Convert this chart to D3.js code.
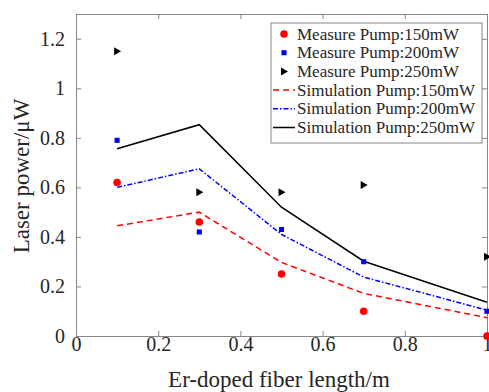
<!DOCTYPE html>
<html>
<head>
<meta charset="utf-8">
<script src="https://cdn.jsdelivr.net/npm/d3@7"></script>
<style>
  body { margin: 0; background: #fff; }
</style>
</head>
<body>
<div id="chart"></div>
<script>
// fiber lengths (m)
var lengths = [0.1, 0.3, 0.5, 0.7, 1.0];

// measured laser power (uW)
var measure150 = [0.62, 0.46, 0.25, 0.10, 0.00];
var measure200 = [0.79, 0.42, 0.43, 0.30, 0.10];
var measure250 = [1.15, 0.58, 0.58, 0.61, 0.32];

// simulated laser power (uW)
var sim150 = [0.445, 0.50, 0.297, 0.172, 0.074];
var sim200 = [0.60, 0.675, 0.41, 0.238, 0.104];
var sim250 = [0.756, 0.853, 0.52, 0.302, 0.136];

var xTicks = [0, 0.2, 0.4, 0.6, 0.8, 1];
var yTicks = [0, 0.2, 0.4, 0.6, 0.8, 1, 1.2];
var legendLabels = [
  "Measure Pump:150mW", "Measure Pump:200mW", "Measure Pump:250mW",
  "Simulation Pump:150mW", "Simulation Pump:200mW", "Simulation Pump:250mW"
];

var FONT = "'Liberation Serif', 'Times New Roman', serif";

var W = 489, H = 392,
    margin = {top: 14, right: 2, bottom: 56, left: 76},
    width = W - margin.left - margin.right,
    height = H - margin.top - margin.bottom;

var svg = d3.select("#chart").append("svg")
    .attr("width", W)
    .attr("height", H)
    .style("font-family", FONT);

var g = svg.append("g")
    .attr("transform", "translate(" + margin.left + "," + margin.top + ")");

var x = d3.scaleLinear().domain([0, 1]).range([0, width]),
    y = d3.scaleLinear().domain([0, 1.3]).range([height, 0]);

var axisColor = "#868686";

// axes (box with ticks inside, matlab style)
function styleAxis(sel) {
  sel.attr("font-family", FONT);
  sel.select(".domain").attr("stroke", axisColor).attr("stroke-width", 1);
  sel.selectAll(".tick line").attr("stroke", axisColor);
  sel.selectAll(".tick text").attr("font-size", "20px").attr("fill", "#262626");
}

g.append("g")
    .attr("transform", "translate(0," + height + ")")
    .call(d3.axisBottom(x).tickValues(xTicks).tickSizeInner(-5).tickSizeOuter(0).tickPadding(1)
      .tickFormat(d3.format("")))
    .call(styleAxis);

g.append("g")
    .call(d3.axisLeft(y).tickValues(yTicks).tickSizeInner(-5).tickSizeOuter(0).tickPadding(11)
      .tickFormat(d3.format("")))
    .call(styleAxis);

g.append("g")
    .call(d3.axisTop(x).tickValues(xTicks).tickSizeInner(-5).tickSizeOuter(0).tickFormat(""))
    .call(styleAxis);

g.append("g")
    .attr("transform", "translate(" + width + ",0)")
    .call(d3.axisRight(y).tickValues(yTicks).tickSizeInner(-5).tickSizeOuter(0).tickFormat(""))
    .call(styleAxis);

// simulation lines
var line = d3.line()
    .x(function(d, i) { return x(lengths[i]); })
    .y(function(d) { return y(d); });

var simSeries = [
  {data: sim150, color: "#ff0000", dash: "6,4"},
  {data: sim200, color: "#0000ff", dash: "5,2,1.5,2"},
  {data: sim250, color: "#000000", dash: null}
];

simSeries.forEach(function(s) {
  g.append("path")
      .datum(s.data)
      .attr("fill", "none")
      .attr("stroke", s.color)
      .attr("stroke-width", 1.5)
      .attr("stroke-dasharray", s.dash)
      .attr("d", line);
});

// measured points
var circle = d3.symbol().type(d3.symbolCircle).size(45),
    square = d3.symbol().type(d3.symbolSquare).size(26),
    tri = "M-3,-4L4,0L-3,4Z";

g.selectAll(".m150").data(measure150).enter().append("path")
    .attr("d", circle).attr("fill", "#ff0000")
    .attr("transform", function(d, i) { return "translate(" + x(lengths[i]) + "," + y(d) + ")"; });

g.selectAll(".m200").data(measure200).enter().append("path")
    .attr("d", square).attr("fill", "#0000ff")
    .attr("transform", function(d, i) { return "translate(" + x(lengths[i]) + "," + y(d) + ")"; });

g.selectAll(".m250").data(measure250).enter().append("path")
    .attr("d", tri).attr("fill", "#000000")
    .attr("transform", function(d, i) { return "translate(" + x(lengths[i]) + "," + y(d) + ")"; });

// axis labels
svg.append("text")
    .attr("x", 279)
    .attr("y", 387)
    .attr("text-anchor", "middle")
    .attr("font-size", "23px")
    .attr("fill", "#262626")
    .text("Er-doped fiber length/m");

svg.append("text")
    .attr("transform", "translate(29,176) rotate(-90)")
    .attr("text-anchor", "middle")
    .attr("font-size", "23px")
    .attr("fill", "#262626")
    .text("Laser power/μW");

// legend
var legend = svg.append("g").attr("transform", "translate(271,23)");
legend.append("rect")
    .attr("width", 211).attr("height", 120)
    .attr("fill", "#fff").attr("stroke", axisColor).attr("stroke-width", 1);

legendLabels.forEach(function(label, i) {
  var cy = 11 + i * 18.7, row = legend.append("g").attr("transform", "translate(0," + cy + ")");
  if (i === 0) row.append("path").attr("d", circle).attr("fill", "#ff0000").attr("transform", "translate(13,0)");
  if (i === 1) row.append("path").attr("d", square).attr("fill", "#0000ff").attr("transform", "translate(13,0)");
  if (i === 2) row.append("path").attr("d", tri).attr("fill", "#000").attr("transform", "translate(13,0)");
  if (i >= 3) {
    var s = simSeries[i - 3];
    row.append("line").attr("x1", 2).attr("x2", 24)
        .attr("stroke", s.color).attr("stroke-width", 1.5).attr("stroke-dasharray", s.dash);
  }
  row.append("text")
      .attr("x", 26).attr("y", 5.5)
      .attr("font-size", "17px")
      .attr("fill", "#262626")
      .text(label);
});
</script>
</body>
</html>
